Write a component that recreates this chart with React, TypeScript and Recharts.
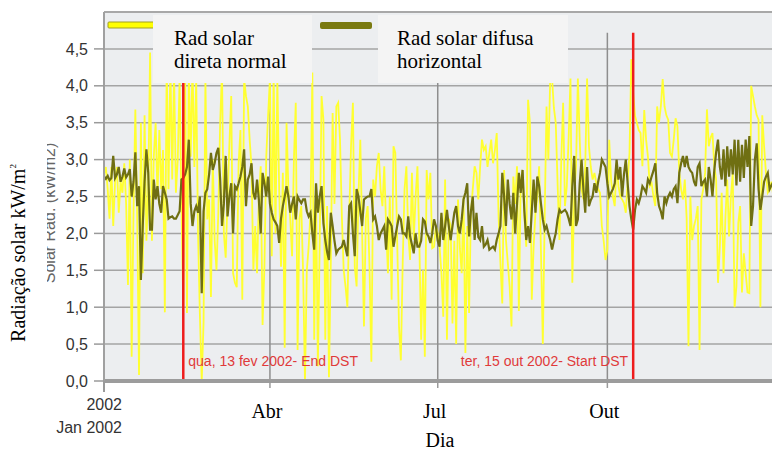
import React from 'react';
import { LineChart, Line, XAxis, YAxis, CartesianGrid, ReferenceLine } from 'recharts';

// Daily totals for 2002, one value per day (Jan 1 = index 0), kW/m²
const directNormal = [
  // jan
  2.8, 2.9, 2.6, 2.2, 2.9, 2.1, 2.7, 2.9, 2.28, 2.7, 2.55, 2.95, 2.4, 1.3, 3.0, 0.33, 2.3, 3.68, 2.2, 0.08, 3.5, 1.46, 3.6, 1.9, 2.6, 4.45, 1.9, 3.04, 3.5, 2.5, 3.4,
  // fev
  2.6, 3.13, 0.93, 4.3, 2.6, 4.3, 2.73, 4.2, 2.55, 3.0, 4.1, 2.37, 1.0, 4.2, 0.92, 4.2, 3.04, 4.3, 2.9, 4.1, 2.0, 0.9, 0.0, 0.8, 4.1, 2.19, 2.46, 1.14,
  // mar
  3.0, 1.91, 1.5, 2.28, 3.5, 4.2, 2.0, 1.67, 2.46, 3.2, 3.86, 1.46, 1.33, 1.27, 2.95, 3.4, 1.1, 4.1, 3.86, 3.72, 3.27, 2.9, 1.5, 2.1, 1.46, 2.5, 2.91, 0.76, 1.55, 3.04, 3.6,
  // abr
  4.1, 1.69, 4.2, 2.0, 4.1, 2.6, 1.55, 2.82, 0.45, 3.5, 2.6, 2.2, 1.69, 3.0, 3.77, 0.42, 2.2, 2.37, 1.46, 0.0, 1.5, 1.82, 2.28, 4.18, 0.56, 2.5, 0.2, 1.91, 3.86, 3.54,
  // mai
  0.56, 2.37, 0.05, 1.6, 3.63, 2.4, 3.72, 3.77, 3.27, 2.23, 1.5, 1.28, 1.0, 2.23, 3.2, 3.77, 1.55, 1.28, 2.5, 3.27, 2.0, 0.74, 2.2, 2.37, 1.55, 0.26, 2.73, 2.5, 2.91, 3.09, 2.6,
  // jun
  2.37, 2.91, 2.1, 1.46, 2.5, 1.1, 3.18, 3.09, 1.91, 0.74, 0.28, 1.6, 2.6, 2.91, 2.0, 1.64, 2.82, 1.91, 2.5, 2.91, 1.91, 0.56, 1.5, 0.33, 2.86, 2.46, 2.82, 1.8, 1.82, 2.1,
  // jul
  2.0, 1.82, 1.46, 0.87, 2.73, 0.56, 2.2, 2.1, 0.78, 1.9, 0.5, 2.46, 1.8, 1.46, 2.5, 0.38, 2.1, 0.92, 2.28, 2.6, 2.91, 2.82, 2.46, 2.9, 3.27, 3.13, 3.18, 2.9, 3.09, 3.27, 2.95,
  // ago
  3.13, 3.36, 2.23, 1.6, 1.05, 2.86, 1.91, 1.6, 1.28, 0.74, 2.77, 2.4, 2.91, 0.95, 2.7, 2.86, 2.23, 1.82, 3.81, 3.5, 1.1, 1.82, 2.28, 2.5, 2.91, 1.73, 0.5, 2.23, 3.72, 3.0, 4.1,
  // set
  4.1, 3.7, 3.5, 2.68, 1.91, 3.0, 3.77, 2.37, 2.64, 3.3, 4.1, 1.33, 2.5, 2.91, 4.1, 3.27, 2.6, 2.46, 2.91, 4.1, 3.18, 2.9, 2.73, 2.82, 2.68, 2.6, 2.55, 2.1, 1.9, 1.64,
  // out
  1.78, 3.27, 2.73, 2.5, 2.37, 2.95, 2.64, 2.5, 2.46, 2.41, 2.28, 2.7, 3.09, 4.36, 3.9, 3.59, 3.5, 3.4, 3.36, 2.91, 3.67, 3.27, 3.04, 2.64, 2.68, 2.5, 2.37, 3.72, 3.5, 3.72, 4.09,
  // nov
  3.72, 3.6, 3.54, 3.09, 3.04, 3.27, 3.56, 3.45, 2.82, 2.6, 2.46, 2.73, 2.2, 0.47, 2.5, 1.91, 2.1, 2.2, 2.37, 0.42, 2.46, 2.6, 2.82, 3.68, 3.18, 3.3, 3.36, 2.91, 2.73, 1.33,
  // dez
  1.82, 2.55, 1.46, 2.2, 2.73, 1.96, 2.5, 2.82, 1.0, 1.28, 2.14, 2.37, 1.2, 1.73, 1.46, 1.2, 1.19, 4.0, 3.86, 3.72, 3.6, 3.54, 1.0, 3.6, 3.18, 2.82, 2.55, 2.59, 2.7, 2.5, 2.6,
];

const diffuseHorizontal = [
  // jan
  2.77, 2.74, 2.78, 2.72, 2.75, 3.05, 2.75, 2.8, 2.9, 2.7, 2.77, 2.88, 2.76, 2.8, 2.87, 2.5, 2.7, 3.1, 2.37, 2.64, 1.37, 2.1, 2.7, 3.14, 2.82, 2.05, 2.05, 2.73, 2.46, 2.64, 2.4,
  // fev
  2.28, 2.64, 2.55, 2.46, 2.2, 2.22, 2.23, 2.2, 2.2, 2.25, 2.3, 2.73, 2.75, 2.8, 2.9, 3.27, 2.41, 2.1, 2.3, 2.37, 2.28, 2.5, 1.19, 2.3, 2.55, 2.6, 2.8, 3.09,
  // mar
  2.86, 2.95, 3.09, 3.16, 2.73, 2.1, 2.4, 3.05, 2.23, 2.5, 2.68, 2.0, 2.64, 2.6, 2.68, 2.77, 2.9, 3.14, 2.37, 2.73, 2.8, 2.95, 2.55, 2.46, 2.73, 2.45, 2.0, 2.82, 2.68, 2.5, 2.77,
  // abr
  2.4, 2.28, 2.19, 2.15, 2.1, 1.87, 2.2, 2.37, 2.5, 2.64, 2.5, 2.28, 2.4, 2.5, 2.19, 2.5, 2.45, 2.41, 2.46, 2.46, 2.3, 2.23, 2.28, 2.0, 1.78, 2.68, 2.28, 2.5, 2.64, 2.14,
  // mai
  1.91, 1.75, 1.64, 2.28, 2.1, 1.9, 1.73, 1.78, 1.8, 1.82, 1.91, 1.8, 1.69, 2.37, 2.41, 2.0, 1.69, 2.6, 2.5, 2.3, 2.1, 2.46, 2.48, 2.5, 2.5, 2.6, 2.19, 2.23, 2.1, 1.91, 2.0,
  // jun
  2.05, 2.1, 1.78, 2.19, 2.15, 2.1, 1.82, 1.96, 2.1, 2.23, 2.19, 2.0, 2.0, 1.96, 2.23, 1.96, 1.85, 1.73, 2.0, 1.82, 1.82, 1.9, 2.19, 2.16, 2.0, 1.96, 1.87, 2.0, 2.19, 2.1,
  // jul
  1.9, 1.82, 2.28, 1.91, 2.1, 2.32, 2.1, 1.91, 2.1, 2.28, 2.37, 2.1, 2.0, 2.19, 2.46, 2.55, 2.68, 1.96, 2.3, 2.5, 1.91, 2.28, 1.95, 1.91, 2.1, 1.82, 1.85, 1.91, 1.78, 1.8, 1.82,
  // ago
  1.78, 1.91, 2.0, 2.1, 2.82, 2.5, 2.1, 2.73, 2.4, 2.19, 2.55, 2.0, 2.4, 2.82, 2.55, 2.86, 2.3, 1.91, 2.1, 1.87, 2.3, 2.73, 2.28, 2.77, 2.64, 2.4, 2.19, 2.05, 2.1, 2.0, 1.91,
  // set
  1.78, 1.9, 2.0, 2.19, 2.32, 2.28, 2.3, 2.32, 2.28, 2.2, 2.1, 2.64, 3.05, 2.1, 2.19, 2.68, 3.0, 2.6, 2.28, 2.9, 2.37, 2.45, 2.5, 2.68, 2.55, 2.7, 2.82, 3.0, 2.95, 2.9,
  // out
  2.68, 2.5, 2.55, 2.6, 2.68, 3.0, 2.73, 2.9, 2.5, 2.8, 3.0, 2.68, 2.37, 2.19, 2.05, 2.32, 2.46, 2.41, 2.5, 2.64, 2.6, 2.55, 2.73, 2.68, 2.77, 2.85, 2.95, 2.55, 2.37, 2.3, 2.19,
  // nov
  2.5, 2.41, 2.5, 2.55, 2.5, 2.6, 2.64, 2.41, 2.82, 2.95, 3.05, 2.9, 3.05, 2.9, 2.85, 2.82, 2.7, 2.64, 2.9, 2.95, 2.64, 2.7, 2.73, 2.5, 2.9, 2.73, 2.5, 2.86, 3.1, 3.27,
  // dez
  2.9, 2.73, 3.14, 2.64, 3.18, 2.77, 3.14, 2.8, 3.27, 2.65, 3.27, 2.7, 3.2, 2.75, 3.27, 2.9, 3.32, 2.1, 2.37, 3.0, 3.22, 2.6, 2.32, 2.5, 2.7, 2.77, 2.82, 2.6, 2.65, 2.7, 2.6,
];

const monthTicks = [0, 90, 181, 273];
const monthNames = ['2002', 'Abr', 'Jul', 'Out'];
const valueTicks = [0, 0.5, 1, 1.5, 2, 2.5, 3, 3.5, 4, 4.5];
const dstDays = [43, 287];
const dstNotes = ['qua, 13 fev 2002- End DST', 'ter, 15 out 2002- Start DST'];

const data = directNormal.map((v, i) => ({ day: i, direta: v, difusa: diffuseHorizontal[i] }));

const SANS = '"Liberation Sans", Arial, sans-serif';
const SERIF = '"Liberation Serif", "Times New Roman", serif';
const GRID_TOP = 4.72;

function MonthTick(props: any) {
  const { x, y, payload } = props;
  const i = monthTicks.indexOf(payload.value);
  if (i === 0) {
    return (
      <g>
        <line x1={x} y1={y} x2={x} y2={y + 11} stroke="#9a9a9a" strokeWidth={2} />
        <text x={x + 18} y={y + 29} textAnchor="end" fontFamily={SANS} fontSize={16} fill="#333">{monthNames[0]}</text>
        <text x={x + 18} y={y + 52} textAnchor="end" fontFamily={SANS} fontSize={16} fill="#333">Jan 2002</text>
      </g>
    );
  }
  return (
    <g>
      <line x1={x} y1={y} x2={x} y2={y + 7} stroke="#9a9a9a" strokeWidth={1.5} />
      <text x={x - 3} y={y + 37} textAnchor="middle" fontFamily={SERIF} fontSize={20} fill="#000">{monthNames[i]}</text>
    </g>
  );
}

function DstNote(props: any) {
  const { viewBox, text, side } = props;
  const bottom = viewBox.y + viewBox.height;
  return (
    <text
      x={side === 'right' ? viewBox.x + 5 : viewBox.x - 5}
      y={bottom - 15}
      textAnchor={side === 'right' ? 'start' : 'end'}
      fontFamily={SANS}
      fontSize={14}
      fill="#e03a3a"
    >
      {text}
    </text>
  );
}

export default function App() {
  return (
    <div style={{ position: 'fixed', left: 0, top: 0, width: 772, height: 450, overflow: 'hidden', background: '#fff' }}>
      <LineChart width={800} height={450} data={data} margin={{ top: 12, right: 23, bottom: 0, left: 0 }}>
        <CartesianGrid vertical={false} fill="#eceef0" stroke="#a4a4a4" strokeWidth={1.5} />
        <XAxis
          dataKey="day"
          type="number"
          domain={[0, 365]}
          ticks={monthTicks}
          interval={0}
          tick={<MonthTick />}
          tickSize={0}
          tickMargin={0}
          height={69}
          axisLine={{ stroke: '#9c9c9c', strokeWidth: 4 }}
        />
        <YAxis
          type="number"
          domain={[0, 5]}
          ticks={valueTicks}
          width={104}
          tickSize={10}
          tickMargin={6}
          tickFormatter={(v: number) => v.toFixed(1).replace('.', ',')}
          tick={{ fill: '#333', fontSize: 16, fontFamily: SANS }}
          tickLine={{ stroke: '#9a9a9a', strokeWidth: 1.5 }}
          axisLine={{ stroke: '#a0a0a0', strokeWidth: 2 }}
        />
        <ReferenceLine y={5} stroke="#a8a8a8" strokeWidth={2} />
        {monthTicks.slice(1).map((d) => (
          <ReferenceLine
            key={d}
            segment={[{ x: d, y: 0 }, { x: d, y: GRID_TOP }]}
            stroke="#8e8e8e"
            strokeWidth={1.5}
          />
        ))}
        <Line
          dataKey="direta"
          type="linear"
          stroke="#ffff30"
          strokeWidth={1.8}
          dot={false}
          isAnimationActive={false}
        />
        <Line
          dataKey="difusa"
          type="linear"
          stroke="#6f6f12"
          strokeWidth={2.2}
          dot={false}
          isAnimationActive={false}
        />
        {dstDays.map((d, i) => (
          <ReferenceLine
            key={'dst' + d}
            segment={[{ x: d, y: 0 }, { x: d, y: GRID_TOP }]}
            stroke="#ee1c1c"
            strokeWidth={2.5}
            label={<DstNote text={dstNotes[i]} side={i === 0 ? 'right' : 'left'} />}
          />
        ))}
      </LineChart>

      <svg width={772} height={450} style={{ position: 'absolute', left: 0, top: 0, pointerEvents: 'none' }}>
        {/* old axis caption, mostly hidden under the white strip */}
        <text transform="translate(55,213) rotate(-90)" textAnchor="middle" fontFamily={SANS} fontSize={16} fill="#666">
          Solar Rad. (kW/m2)
        </text>
        <rect x={0} y={100} width={47} height={260} fill="#fff" />
        <text transform="translate(25,253) rotate(-90)" textAnchor="middle" fontFamily={SERIF} fontSize={20} fill="#000">
          Radiação solar kW/m<tspan dy={-9} fontSize={9}>2</tspan>
        </text>

        {/* legend */}
        <rect x={108} y={22} width={50} height={6} fill="#ffff00" stroke="#a0a020" strokeWidth={1} rx={1} />
        <rect x={320} y={22} width={52} height={7} fill="#7a7a10" rx={2} />
        <rect x={153} y={15} width={159} height={68} fill="#f4f4f4" />
        <rect x={378} y={15} width={190} height={68} fill="#f4f4f4" />
        <text x={174} y={45} fontFamily={SERIF} fontSize={21} fill="#000">Rad solar</text>
        <text x={174} y={68} fontFamily={SERIF} fontSize={21} fill="#000">direta normal</text>
        <text x={397} y={45} fontFamily={SERIF} fontSize={21} fill="#000">Rad solar difusa</text>
        <text x={397} y={68} fontFamily={SERIF} fontSize={21} fill="#000">horizontal</text>

        <text x={440} y={447} textAnchor="middle" fontFamily={SERIF} fontSize={20} fill="#000">Dia</text>
      </svg>
    </div>
  );
}
